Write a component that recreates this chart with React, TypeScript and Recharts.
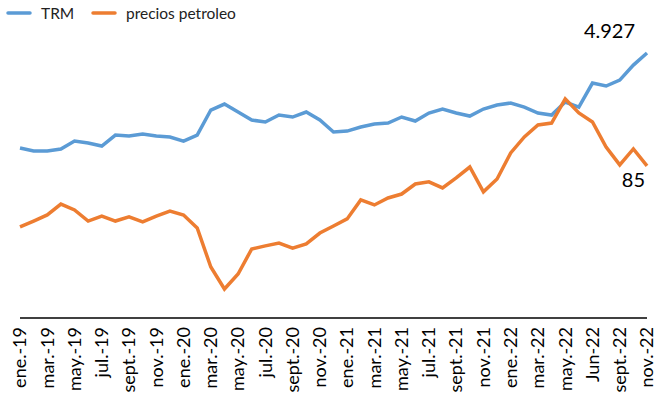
import { LineChart, Line, XAxis, YAxis, Legend } from 'recharts'

const meses = [
  'ene.-19', 'feb.-19', 'mar.-19', 'abr.-19', 'may.-19', 'jun.-19', 'jul.-19', 'ago.-19', 'sept.-19', 'oct.-19', 'nov.-19', 'dic.-19',
  'ene.-20', 'feb.-20', 'mar.-20', 'abr.-20', 'may.-20', 'jun.-20', 'jul.-20', 'ago.-20', 'sept.-20', 'oct.-20', 'nov.-20', 'dic.-20',
  'ene.-21', 'feb.-21', 'mar.-21', 'abr.-21', 'may.-21', 'jun.-21', 'jul.-21', 'ago.-21', 'sept.-21', 'oct.-21', 'nov.-21', 'dic.-21',
  'ene.-22', 'feb.-22', 'mar.-22', 'abr.-22', 'may.-22', 'jun.-22', 'Jun-22', 'ago.-22', 'sept.-22', 'oct.-22', 'nov.-22',
]

const trm = [
  3160, 3105, 3105, 3142, 3290, 3253, 3197, 3402, 3383, 3421, 3383, 3365,
  3290, 3402, 3867, 3978, 3830, 3681, 3644, 3774, 3737, 3830, 3681, 3458,
  3476, 3551, 3606, 3625, 3737, 3662, 3811, 3885, 3811, 3755, 3885, 3960,
  3997, 3922, 3811, 3774, 4015, 3922, 4369, 4313, 4424, 4703, 4927,
]

const petroleo = [
  50.9, 54.2, 57.6, 63.7, 60.4, 54.2, 57.0, 54.2, 56.5, 53.7, 57.0, 59.8,
  57.6, 50.3, 28.5, 16.2, 24.6, 38.6, 40.3, 41.9, 39.1, 41.4, 47.5, 51.4,
  55.4, 66.0, 63.2, 67.1, 69.3, 74.9, 76.1, 72.7, 78.3, 84.4, 70.5, 77.7,
  92.3, 101.2, 107.9, 109.0, 122.5, 114.6, 109.6, 95.6, 85.6, 94.5, 85,
]

const data = meses.map((mes, i) => ({ mes, trm: trm[i], petroleo: petroleo[i] }))

const FONT = 'Lato, "Open Sans", sans-serif'
const AZUL = '#5B9BD5'
const NARANJA = '#ED7D31'
const last = meses.length - 1

function MesTick(props: any) {
  const { x, y, payload } = props
  const ty = y + 9
  return (
    <text
      x={x}
      y={ty}
      transform={`rotate(-90 ${x} ${ty})`}
      textAnchor="end"
      dy="0.35em"
      fontSize={18}
      fontFamily={FONT}
      fill="#000"
    >
      {payload.value}
    </text>
  )
}

function Leyenda() {
  return (
    <svg width={260} height={24} style={{ display: 'block' }}>
      <line x1={8} x2={30} y1={13} y2={13} stroke={AZUL} strokeWidth={3.5} strokeLinecap="round" />
      <text x={41} y={18.5} fontSize={15.5} fontFamily={FONT} fill="#222">TRM</text>
      <line x1={93} x2={115} y1={13} y2={13} stroke={NARANJA} strokeWidth={3.5} strokeLinecap="round" />
      <text x={126} y={18.5} fontSize={15.5} fontFamily={FONT} fill="#222">precios petroleo</text>
    </svg>
  )
}

const trmLabel = (props: any) => {
  if (props.index !== last) return null
  return (
    <text x={props.x - 12} y={props.y - 15} textAnchor="end" fontSize={20} fontFamily={FONT} fill="#000">
      {Number(props.value).toLocaleString('de-DE')}
    </text>
  )
}

const petroleoLabel = (props: any) => {
  if (props.index !== last) return null
  return (
    <text x={props.x - 2} y={props.y + 21} textAnchor="end" fontSize={20} fontFamily={FONT} fill="#000">
      {props.value}
    </text>
  )
}

export default function App() {
  return (
    <div style={{ position: 'absolute', left: 0, top: 0, background: '#fff' }}>
      <LineChart width={657} height={400} data={data} margin={{ top: 6, right: 10, bottom: 0, left: 20 }}>
        <Legend
          verticalAlign="top"
          align="left"
          wrapperStyle={{ top: 0, left: 0 }}
          content={() => <Leyenda />}
        />
        <XAxis
          dataKey="mes"
          interval={1}
          tickLine={false}
          tickSize={0}
          tickMargin={0}
          height={82}
          axisLine={{ stroke: '#000', strokeWidth: 1.5 }}
          tick={<MesTick />}
        />
        <YAxis yAxisId="trm" hide domain={[0, 5355]} />
        <YAxis yAxisId="oil" hide orientation="right" domain={[0, 161]} />
        <Line
          yAxisId="trm"
          type="linear"
          dataKey="trm"
          name="TRM"
          stroke={AZUL}
          strokeWidth={3.5}
          dot={false}
          isAnimationActive={false}
          label={trmLabel}
        />
        <Line
          yAxisId="oil"
          type="linear"
          dataKey="petroleo"
          name="precios petroleo"
          stroke={NARANJA}
          strokeWidth={3.5}
          dot={false}
          isAnimationActive={false}
          label={petroleoLabel}
        />
      </LineChart>
    </div>
  )
}
